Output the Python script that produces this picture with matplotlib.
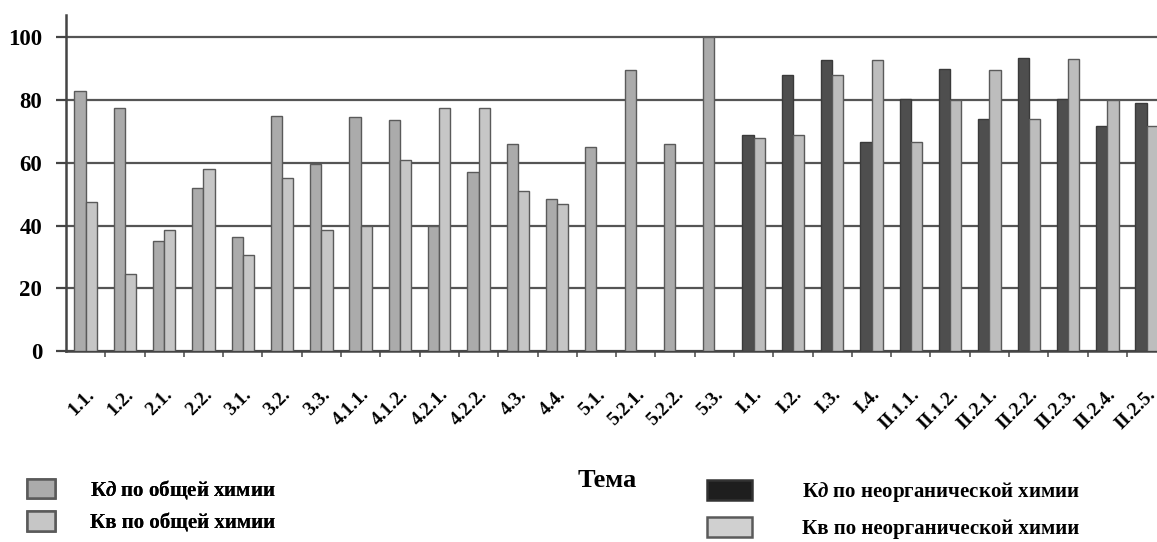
import matplotlib.pyplot as plt
from matplotlib.patches import Patch
import numpy as np

plt.rcParams['font.family'] = ['Liberation Serif', 'DejaVu Serif']
plt.rcParams['font.weight'] = 'bold'
plt.rcParams['mathtext.fontset'] = 'custom'
plt.rcParams['mathtext.rm'] = 'Liberation Serif:bold'
plt.rcParams['mathtext.it'] = 'Liberation Serif:italic:bold'

# Темы
topics = ['1.1.', '1.2.', '2.1.', '2.2.', '3.1.', '3.2.', '3.3.', '4.1.1.', '4.1.2.',
          '4.2.1.', '4.2.2.', '4.3.', '4.4.', '5.1.', '5.2.1.', '5.2.2.', '5.3.',
          'I.1.', 'I.2.', 'I.3.', 'I.4.', 'II.1.1.', 'II.1.2.', 'II.2.1.', 'II.2.2.',
          'II.2.3.', 'II.2.4.', 'II.2.5.']

# общая химия (темы 1.1. - 5.3.)
kd_general = [83, 77.5, 35, 52, 36.5, 75, 59.5, 74.5, 73.5, 40, 57, 66, 48.5,
              65, 89.7, 66, 100]
kv_general = [47.5, 24.5, 38.5, 58, 30.5, 55, 38.5, 40, 61, 77.5, 77.5, 51, 47,
              np.nan, np.nan, np.nan, np.nan]

# неорганическая химия (темы I.1. - II.2.5.)
kd_inorg = [69, 88, 92.7, 66.6, 80.3, 89.9, 74, 93.3, 80.3, 71.8, 79]
kv_inorg = [68, 69, 88, 92.6, 66.6, 80, 89.7, 74, 93.2, 80, 71.8]


def main():
    fig = plt.figure(figsize=(11.57, 5.42), dpi=100)
    ax = fig.add_axes([0.057, 0.352, 0.951, 0.62])

    n_gen = len(kd_general)
    x_gen = np.arange(n_gen)
    x_inorg = np.arange(n_gen, len(topics))
    w = 0.285

    edge = '#5a5a5a'
    ax.bar(x_gen - w / 2, kd_general, w, color='#ababab', edgecolor=edge, linewidth=1, zorder=3)
    ax.bar(x_gen + w / 2, kv_general, w, color='#c6c6c6', edgecolor=edge, linewidth=1, zorder=3)
    ax.bar(x_inorg - w / 2, kd_inorg, w, color='#4e4e4e', edgecolor='#3a3a3a', linewidth=1, zorder=3)
    ax.bar(x_inorg + w / 2, kv_inorg, w, color='#bdbdbd', edgecolor=edge, linewidth=1, zorder=3)

    # Оси и сетка
    ax.set_xlim(-0.5, len(topics) - 0.5)
    ax.set_ylim(0, 107)
    ax.set_yticks(np.arange(0, 101, 20))
    ax.yaxis.grid(True, color='#555555', linewidth=1.6, zorder=0)
    ax.tick_params(axis='y', labelsize=16.5, length=7, width=1.6, color='#444444', pad=10)

    ax.set_xticks(np.arange(len(topics)) + 0.5)
    ax.set_xticklabels([])
    ax.tick_params(axis='x', which='major', length=4, width=1.2, color='#555555')
    ax.set_xticks(np.arange(len(topics)), minor=True)
    ax.set_xticklabels(topics, minor=True, rotation=45, ha='right', va='top',
                       rotation_mode='anchor', fontsize=14)
    ax.tick_params(axis='x', which='minor', length=0, pad=25)

    for s in ['top', 'right']:
        ax.spines[s].set_visible(False)
    ax.spines['left'].set_color('#444444')
    ax.spines['left'].set_linewidth(1.8)
    ax.spines['bottom'].set_color('#444444')
    ax.spines['bottom'].set_linewidth(1.8)

    fig.text(0.525, 0.113, 'Тема', fontsize=19, ha='center', va='center')

    # Легенды
    leg1 = fig.legend(handles=[Patch(facecolor='#ababab', edgecolor=edge, linewidth=1.8),
                               Patch(facecolor='#c6c6c6', edgecolor=edge, linewidth=1.8)],
                      labels=['К$\\mathit{д}$ по общей химии', 'Кв по общей химии'],
                      loc='upper left', bbox_to_anchor=(0.0233, 0.118), frameon=False,
                      borderpad=0, borderaxespad=0,
                      fontsize=15, handlelength=1.35, handleheight=1.06, handletextpad=1.7,
                      labelspacing=0.5)
    fig.legend(handles=[Patch(facecolor='#1e1e1e', edgecolor='#333333', linewidth=1.8),
                        Patch(facecolor='#d0d0d0', edgecolor=edge, linewidth=1.8)],
               labels=['К$\\mathit{д}$ по неорганической химии', 'Кв по неорганической химии'],
               loc='upper left', bbox_to_anchor=(0.611, 0.114), frameon=False,
               borderpad=0, borderaxespad=0,
               fontsize=15, handlelength=2.16, handleheight=1.1, handletextpad=2.4,
               labelspacing=0.62)
    fig.add_artist(leg1)

    fig.savefig('out.png', dpi=100)


if __name__ == "__main__":
    main()
